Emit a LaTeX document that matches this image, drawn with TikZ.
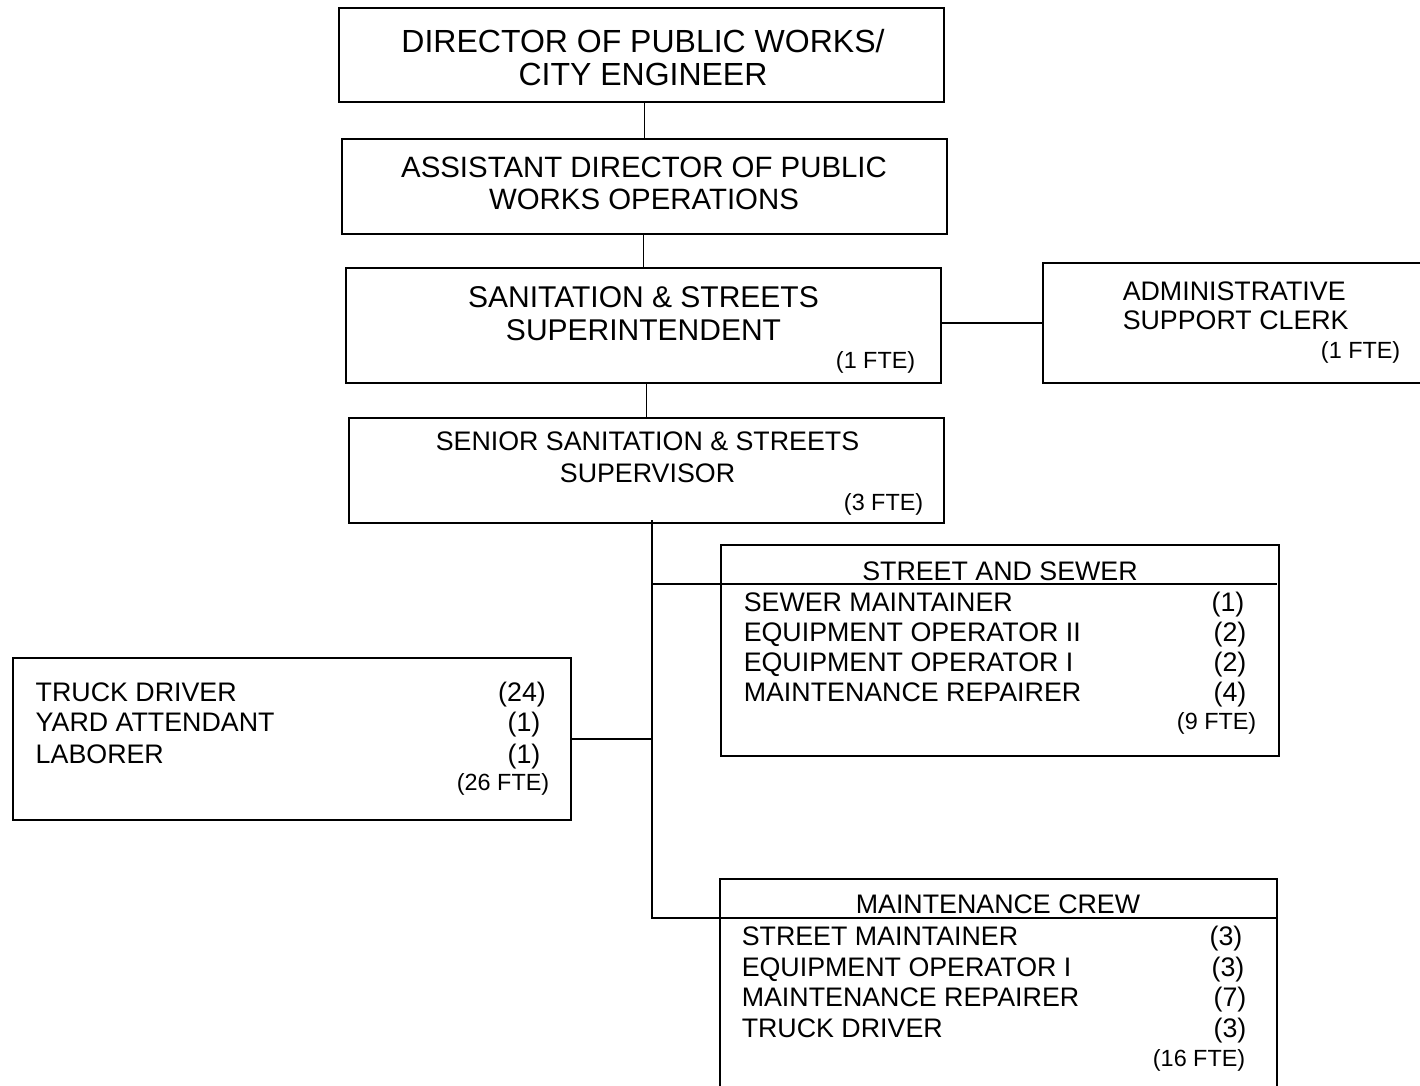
\documentclass[tikz,border=0pt]{standalone}
\usepackage{fontspec}
\setmainfont{Liberation Sans}
\usepackage{tikz}

\begin{document}
\begin{tikzpicture}[x=0.5pt,y=-0.5pt,line width=0.75pt,
    box/.style={draw,rectangle,inner sep=0pt},
    title/.style={font=\fontsize{15}{16.5}\selectfont,anchor=base,inner sep=0pt},
    head/.style={font=\fontsize{13.4}{15}\selectfont,anchor=base,inner sep=0pt},
    item/.style={font=\fontsize{13.4}{15}\selectfont,anchor=base west,inner sep=0pt},
    fte/.style={font=\fontsize{11.7}{13}\selectfont,anchor=base east,inner sep=0pt}]
  \useasboundingbox (0,0) rectangle (1420,1086);

  % boxes
  \node[box,minimum width=302.5pt,minimum height=47pt]   (dir)    at (641.5,55)   {};
  \node[box,minimum width=302.5pt,minimum height=47.5pt] (asst)   at (644.5,186.5) {};
  \node[box,minimum width=297.5pt,minimum height=57.5pt] (supt)   at (643.5,325.5) {};
  \node[box,minimum width=193.5pt,minimum height=60pt]   (clerk)  at (1236.5,323) {};
  \node[box,minimum width=297.5pt,minimum height=52.5pt] (senior) at (646.5,470.5) {};
  \node[box,minimum width=279pt,minimum height=105.5pt]  (sew)    at (1000,650.5) {};
  \node[box,minimum width=279pt,minimum height=81pt]     (yard)   at (292,739)    {};
  \node[box,minimum width=278.5pt,minimum height=108pt]  (crew)   at (998.5,987)  {};

  % texts
  \node[title,font=\fontsize{16}{17}\selectfont] (dir-1) at (643,53) {DIRECTOR OF PUBLIC WORKS/};
  \node[title,font=\fontsize{16}{17}\selectfont] (dir-2) at (643,86) {CITY ENGINEER};
  \node[title,font=\fontsize{14.7}{16}\selectfont] (asst-1) at (644,177) {ASSISTANT DIRECTOR OF PUBLIC};
  \node[title,font=\fontsize{14.7}{16}\selectfont] (asst-2) at (644,210) {WORKS OPERATIONS};
  \node[title] (supt-1) at (643.5,307) {SANITATION \& STREETS};
  \node[title] (supt-2) at (643.5,340) {SUPERINTENDENT};
  \node[fte] (supt-n) at (916,368) {(1 FTE)};

  \node[item] (clerk-1) at (1122,300) {ADMINISTRATIVE};
  \node[item] (clerk-2) at (1122,329) {SUPPORT CLERK};
  \node[fte] (clerk-n) at (1401,358) {(1 FTE)};

  \node[head] (senior-1) at (647.5,450) {SENIOR SANITATION \& STREETS};
  \node[head] (senior-2) at (647.5,482) {SUPERVISOR};
  \node[fte] (senior-n) at (924,510) {(3 FTE)};

  \node[head] (sew-h) at (1000,580) {STREET AND SEWER};
  \node[item] (sew-1) at (743,611) {SEWER MAINTAINER};
  \node[item] (sew-2) at (743,641) {EQUIPMENT OPERATOR II};
  \node[item] (sew-3) at (743,671) {EQUIPMENT OPERATOR I};
  \node[item] (sew-4) at (743,701) {MAINTENANCE REPAIRER};
  \node[head] (sew-1n) at (1228,611) {(1)};
  \node[head] (sew-2n) at (1230,641) {(2)};
  \node[head] (sew-3n) at (1230,671) {(2)};
  \node[head] (sew-4n) at (1230,701) {(4)};
  \node[fte] (sew-n) at (1257,729) {(9 FTE)};

  \node[item] (yard-1) at (35,701) {TRUCK DRIVER};
  \node[item] (yard-2) at (35,731) {YARD ATTENDANT};
  \node[item] (yard-3) at (35,763) {LABORER};
  \node[head] (yard-1n) at (522,701) {(24)};
  \node[head] (yard-2n) at (524,731) {(1)};
  \node[head] (yard-3n) at (524,763) {(1)};
  \node[fte] (yard-n) at (550,790) {(26 FTE)};

  \node[head] (crew-h) at (998,913) {MAINTENANCE CREW};
  \node[item] (crew-1) at (741,945) {STREET MAINTAINER};
  \node[item] (crew-2) at (741,976) {EQUIPMENT OPERATOR I};
  \node[item] (crew-3) at (741,1006) {MAINTENANCE REPAIRER};
  \node[item] (crew-4) at (741,1037) {TRUCK DRIVER};
  \node[head] (crew-1n) at (1226,945) {(3)};
  \node[head] (crew-2n) at (1228,976) {(3)};
  \node[head] (crew-3n) at (1230,1006) {(7)};
  \node[head] (crew-4n) at (1230,1037) {(3)};
  \node[fte] (crew-n) at (1246,1066) {(16 FTE)};

  % connectors
  \coordinate (trunk) at (652,520);
  \coordinate (sew-r) at (1277,584);
  \coordinate (crew-r) at (1277,918);
  \draw (asst.north) -- (asst.north |- dir.south);
  \draw (supt.north) -- (supt.north |- asst.south);
  \draw (clerk.west -| supt.east) -- (clerk.west);
  \draw (senior.north) -- (senior.north |- supt.south);
  \draw (trunk) |- (crew-r);
  \draw (trunk |- sew-r) -- (sew-r);
  \draw (yard.east) -- (yard.east -| trunk);
\end{tikzpicture}
\end{document}
